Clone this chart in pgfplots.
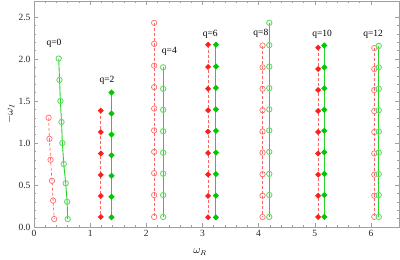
\documentclass[border=0pt]{standalone}
\usepackage{pgfplots}
\pgfplotsset{compat=1.18}
\usepackage{fontspec}
\setmainfont{Liberation Serif}
\definecolor{framec}{RGB}{160,160,160}
\definecolor{redo}{RGB}{255,110,110}
\definecolor{redf}{RGB}{255,30,30}
\definecolor{greeno}{RGB}{100,220,100}
\definecolor{greenf}{RGB}{0,200,0}
\definecolor{redl}{RGB}{255,100,100}
\definecolor{greenl}{RGB}{40,210,40}
\begin{document}
\begin{tikzpicture}
\begin{axis}[
 at={(0,0)}, anchor=south west,
 scale only axis, width=365pt, height=226pt,
 xmin=0, xmax=6.5, ymin=0, ymax=2.69,
 axis line style={framec, line width=0.6pt},
 every tick/.style={framec, line width=0.5pt},
 major tick length=4pt, minor tick length=2.3pt,
 xtick={0,...,6}, minor x tick num=4,
 ytick={0,0.5,...,2.5}, minor y tick num=4,
 yticklabel style={/pgf/number format/.cd, fixed, fixed zerofill, precision=1},
 /pgf/number format/assume math mode=true,
 tick label style={font=\fontsize{9.5}{10}\selectfont, text=black!85},
 xlabel={$\omega_R$}, ylabel={$-\omega_I$},
 label style={font=\fontsize{10.5}{11}\selectfont},
 xlabel style={at={(axis description cs:0.455,-0.11)}, anchor=center},
 ylabel style={at={(axis description cs:-0.065,0.5)}, anchor=center},
 clip=false,
 ocirc/.style={mark=o, mark size=2.7pt, mark options={solid, line width=0.5pt}},
 fdia/.style={mark=square*, mark size=1.75pt, mark options={solid, rotate=45}},
 rline/.style={draw=redl, dashed, dash pattern=on 3pt off 2pt, line width=0.7pt},
 gline/.style={draw=greenl, solid, line width=0.9pt},
]
% q=0
\addplot[rline, ocirc, mark options={redo, solid}] table {
x y
0.26 1.30
0.275 1.05
0.295 0.80
0.32 0.55
0.34 0.315
0.36 0.095
};
\addplot[gline, ocirc, mark options={draw=greeno}] table {
x y
0.44 2.005
0.455 1.75
0.47 1.50
0.49 1.25
0.505 1.00
0.53 0.75
0.565 0.52
0.59 0.30
0.60 0.095
};
% q=2
\addplot[rline, fdia, mark options={redf, solid, rotate=45}] table {
x y
1.19 1.385
1.19 1.13
1.19 0.875
1.19 0.62
1.19 0.37
1.19 0.12
};
\addplot[gline, fdia, mark options={greenf, rotate=45}] table {
x y
1.38 1.60
1.38 1.35
1.38 1.10
1.38 0.855
1.38 0.61
1.38 0.36
1.38 0.115
};
% q=4
\addplot[rline, ocirc, mark options={redo, solid}] table {
x y
2.14 2.43
2.14 2.18
2.14 1.92
2.14 1.665
2.14 1.41
2.14 1.15
2.14 0.895
2.14 0.64
2.14 0.38
2.14 0.12
};
\addplot[gline, ocirc, mark options={draw=greeno}] table {
x y
2.30 1.90
2.30 1.645
2.30 1.395
2.30 1.14
2.30 0.885
2.30 0.635
2.30 0.38
2.30 0.12
};
% q=6
\addplot[rline, fdia, mark options={redf, solid, rotate=45}] table {
x y
3.10 2.17
3.10 1.905
3.10 1.645
3.10 1.39
3.10 1.135
3.10 0.88
3.10 0.625
3.10 0.37
3.10 0.115
};
\addplot[gline, fdia, mark options={greenf, rotate=45}] table {
x y
3.24 2.17
3.24 1.91
3.24 1.655
3.24 1.40
3.24 1.145
3.24 0.886
3.24 0.63
3.24 0.373
3.24 0.115
};
% q=8
\addplot[rline, ocirc, mark options={redo, solid}] table {
x y
4.07 2.16
4.07 1.90
4.07 1.645
4.07 1.39
4.07 1.136
4.07 0.886
4.07 0.628
4.07 0.373
4.07 0.12
};
\addplot[gline, ocirc, mark options={draw=greeno}] table {
x y
4.19 2.43
4.19 2.165
4.19 1.91
4.19 1.653
4.19 1.40
4.19 1.15
4.19 0.894
4.19 0.632
4.19 0.381
4.19 0.12
};
% q=10
\addplot[rline, fdia, mark options={redf, solid, rotate=45}] table {
x y
5.06 2.135
5.06 1.88
5.06 1.63
5.06 1.38
5.06 1.13
5.06 0.875
5.06 0.623
5.06 0.373
5.06 0.12
};
\addplot[gline, fdia, mark options={greenf, rotate=45}] table {
x y
5.17 2.16
5.17 1.90
5.17 1.65
5.17 1.395
5.17 1.145
5.17 0.89
5.17 0.632
5.17 0.38
5.17 0.12
};
% q=12
\addplot[rline, ocirc, mark options={redo, solid}] table {
x y
6.06 2.13
6.06 1.88
6.06 1.63
6.06 1.38
6.06 1.13
6.06 0.875
6.06 0.623
6.06 0.373
6.06 0.12
};
\addplot[gline, ocirc, mark options={draw=greeno}] table {
x y
6.14 2.155
6.14 1.90
6.14 1.645
6.14 1.39
6.14 1.136
6.14 0.886
6.14 0.63
6.14 0.38
6.14 0.12
};
\node[font=\fontsize{9.5}{10}\selectfont] at (axis cs:0.357,2.18) {q=0};
\node[font=\fontsize{9.5}{10}\selectfont] at (axis cs:1.30,1.74) {q=2};
\node[font=\fontsize{9.5}{10}\selectfont] at (axis cs:2.41,2.09) {q=4};
\node[font=\fontsize{9.5}{10}\selectfont] at (axis cs:3.14,2.29) {q=6};
\node[font=\fontsize{9.5}{10}\selectfont] at (axis cs:4.04,2.30) {q=8};
\node[font=\fontsize{9.5}{10}\selectfont] at (axis cs:5.13,2.29) {q=10};
\node[font=\fontsize{9.5}{10}\selectfont] at (axis cs:6.04,2.29) {q=12};
\end{axis}
\pgfresetboundingbox
\path[use as bounding box] (-34pt,-33pt) rectangle (366pt,227pt);
\end{tikzpicture}
\end{document}
